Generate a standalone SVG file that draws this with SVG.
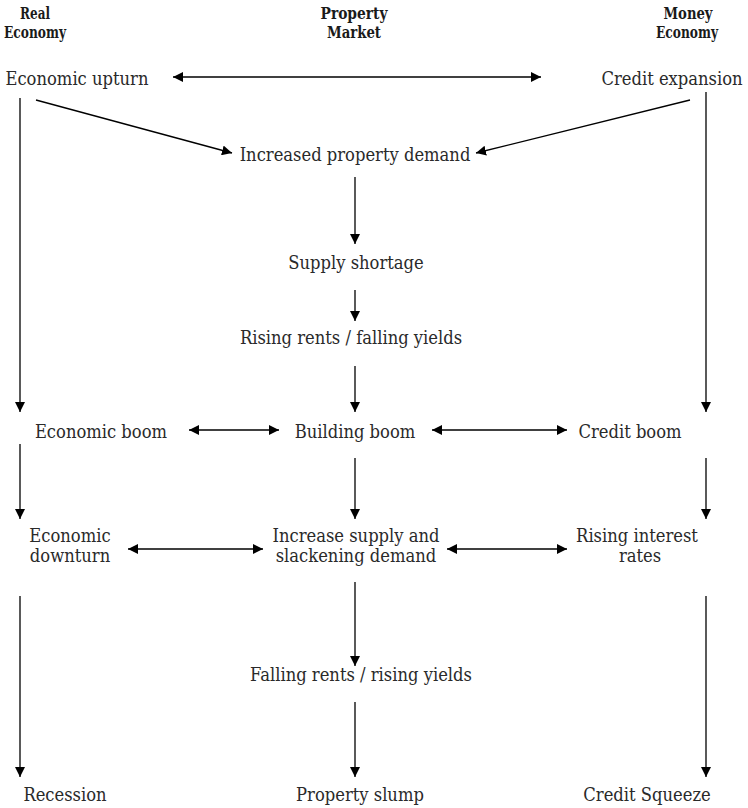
<svg xmlns="http://www.w3.org/2000/svg" width="748" height="808" viewBox="0 0 748 808">
<defs>
<marker id="ah" viewBox="0 0 10 10" refX="10" refY="5" markerWidth="10" markerHeight="10" markerUnits="userSpaceOnUse" orient="auto-start-reverse">
<path d="M0,0 L10,5 L0,10 z" fill="#000"/>
</marker>
<style>
text{font-family:"DejaVu Serif","Liberation Serif",serif;font-stretch:condensed;font-size:18.2px;fill:#2a2a2a;text-anchor:middle}
.h{font-weight:bold;font-size:16px;fill:#1a1a1a}
.c line{stroke:#000;stroke-width:1.3;fill:none}
.e{marker-end:url(#ah)}
.b{marker-start:url(#ah);marker-end:url(#ah)}
</style>
</defs>
<rect width="748" height="808" fill="#fff"/>
<g id="headers">
<text class="h" x="35" y="19" textLength="30" lengthAdjust="spacingAndGlyphs">Real</text>
<text class="h" x="35" y="38" textLength="62" lengthAdjust="spacingAndGlyphs">Economy</text>
<text class="h" x="354" y="19" textLength="67" lengthAdjust="spacingAndGlyphs">Property</text>
<text class="h" x="354" y="38" textLength="54" lengthAdjust="spacingAndGlyphs">Market</text>
<text class="h" x="688" y="19" textLength="49" lengthAdjust="spacingAndGlyphs">Money</text>
<text class="h" x="687" y="38" textLength="62" lengthAdjust="spacingAndGlyphs">Economy</text>
</g>
<g id="n-upturn"><text x="77" y="85">Economic upturn</text></g>
<g id="n-credit-exp"><text x="672" y="85">Credit expansion</text></g>
<g id="n-demand"><text x="355" y="161">Increased property demand</text></g>
<g id="n-shortage"><text x="356" y="269">Supply shortage</text></g>
<g id="n-rents-up"><text x="351" y="344">Rising rents / falling yields</text></g>
<g id="n-econ-boom"><text x="101" y="438">Economic boom</text></g>
<g id="n-build-boom"><text x="355" y="438">Building boom</text></g>
<g id="n-credit-boom"><text x="630" y="438">Credit boom</text></g>
<g id="n-downturn"><text x="70" y="542">Economic</text><text x="70" y="562">downturn</text></g>
<g id="n-supply"><text x="356" y="542">Increase supply and</text><text x="356" y="562">slackening demand</text></g>
<g id="n-rates"><text x="637" y="542">Rising interest</text><text x="640" y="562">rates</text></g>
<g id="n-rents-down"><text x="361" y="681">Falling rents / rising yields</text></g>
<g id="n-recession"><text x="65" y="801">Recession</text></g>
<g id="n-slump"><text x="360" y="801">Property slump</text></g>
<g id="n-squeeze"><text x="647" y="801">Credit Squeeze</text></g>
<g id="connectors" class="c">
<line class="b" x1="173" y1="77" x2="541" y2="77"/>
<line class="e" x1="36" y1="100" x2="232" y2="153"/>
<line class="e" x1="690" y1="100" x2="476" y2="153"/>
<line class="e" x1="20" y1="98" x2="20" y2="412"/>
<line class="e" x1="706" y1="92" x2="706" y2="412"/>
<line class="e" x1="355" y1="177" x2="355" y2="244"/>
<line class="e" x1="355" y1="290" x2="355" y2="321"/>
<line class="e" x1="355" y1="366" x2="355" y2="412"/>
<line class="b" x1="189" y1="430" x2="279" y2="430"/>
<line class="b" x1="432" y1="430" x2="567" y2="430"/>
<line class="e" x1="20" y1="444" x2="20" y2="519"/>
<line class="e" x1="355" y1="458" x2="355" y2="519"/>
<line class="e" x1="706" y1="458" x2="706" y2="519"/>
<line class="b" x1="128" y1="549" x2="263" y2="549"/>
<line class="b" x1="447" y1="549" x2="567" y2="549"/>
<line class="e" x1="20" y1="596" x2="20" y2="777"/>
<line class="e" x1="355" y1="582" x2="355" y2="666"/>
<line class="e" x1="355" y1="702" x2="355" y2="777"/>
<line class="e" x1="706" y1="596" x2="706" y2="777"/>
</g>
</svg>
